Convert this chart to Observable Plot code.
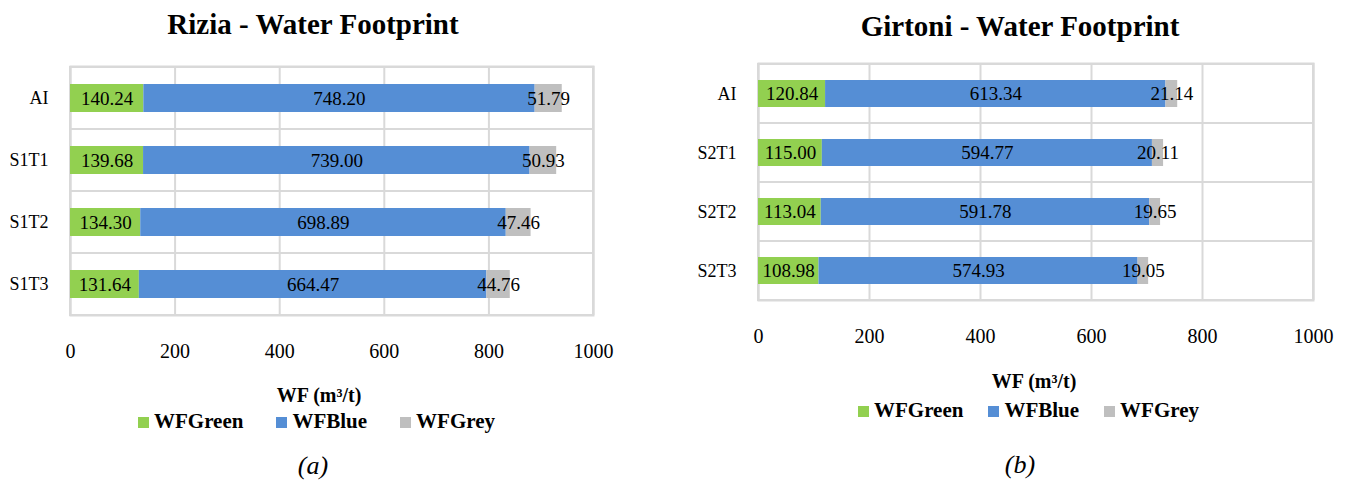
<!DOCTYPE html>
<html>
<head>
<meta charset="utf-8">
<script src="https://cdn.jsdelivr.net/npm/d3@7"></script>
<script src="https://cdn.jsdelivr.net/npm/@observablehq/plot@0.6"></script>
<style>
  html, body { margin: 0; padding: 0; background: #fff; }
  #root { position: relative; width: 1348px; height: 482px; overflow: hidden; font-family: "Liberation Serif", "Times New Roman", serif; color: #000; }
  .abs { position: absolute; }
  .title { font-weight: bold; font-size: 29px; line-height: 29px; text-align: center; width: 674px; }
  .axtitle { font-weight: bold; font-size: 20px; line-height: 20px; text-align: center; white-space: nowrap; }
  .legend { display: flex; align-items: baseline; font-weight: bold; font-size: 21px; line-height: 21px; white-space: nowrap; }
  .legend .item { display: flex; align-items: baseline; }
  .legend .sw { display: inline-block; width: 11px; height: 11px; margin-right: 5px; }
  .caption { font-style: italic; font-size: 26px; line-height: 26px; text-align: center; }
</style>
</head>
<body>
<div id="root"></div>
<script>
// ---- data ----
const seriesNames = ["WFGreen", "WFBlue", "WFGrey"];
const seriesColors = ["#92D050", "#558ED5", "#BFBFBF"];
const xTicks = [0, 200, 400, 600, 800, 1000];

const riziaTitle = "Rizia - Water Footprint";
const riziaCats = ["AI", "S1T1", "S1T2", "S1T3"];
const riziaGreen = [140.24, 139.68, 134.30, 131.64];
const riziaBlue = [748.20, 739.00, 698.89, 664.47];
const riziaGrey = [51.79, 50.93, 47.46, 44.76];

const girtoniTitle = "Girtoni - Water Footprint";
const girtoniCats = ["AI", "S2T1", "S2T2", "S2T3"];
const girtoniGreen = [120.84, 115.00, 113.04, 108.98];
const girtoniBlue = [613.34, 594.77, 591.78, 574.93];
const girtoniGrey = [21.14, 20.11, 19.65, 19.05];

const axisTitle = "WF (m³/t)";

function rows(cats, green, blue, grey) {
  const out = [];
  const vals = [green, blue, grey];
  cats.forEach((c, i) => {
    seriesNames.forEach((s, j) => out.push({cat: c, series: s, value: vals[j][i]}));
  });
  return out;
}

function chart(cats, data, cfg) {
  const grid = "#D9D9D9";
  return Plot.plot({
    width: 674,
    height: cfg.height,
    marginLeft: cfg.ml,
    marginRight: cfg.mr,
    marginTop: cfg.mt,
    marginBottom: cfg.mb,
    style: {fontFamily: "'Liberation Serif', 'Times New Roman', serif", color: "#000", background: "transparent"},
    x: {domain: [0, 1000], axis: null},
    y: {domain: cats, padding: 0, axis: null},
    color: {domain: seriesNames, range: seriesColors},
    marks: [
      Plot.gridX(xTicks, {stroke: grid, strokeOpacity: 1, strokeWidth: 2}),
      Plot.cell(cats, {y: d => d, fill: "none", stroke: grid, strokeWidth: 2}),
      Plot.frame({stroke: grid, strokeWidth: 2}),
      Plot.barX(data, Plot.stackX({y: "cat", x: "value", fill: "series", z: "series", order: seriesNames, insetTop: cfg.inset, insetBottom: cfg.inset})),
      Plot.text(data, Plot.stackX({y: "cat", x: "value", z: "series", order: seriesNames, text: d => d.value.toFixed(2), fontSize: 19, fill: "#000"})),
      Plot.axisY({tickSize: 0, tickPadding: cfg.yPad, fontSize: 18, label: null}),
      Plot.axisX({ticks: xTicks, tickFormat: d => String(d), tickSize: 0, tickPadding: 28, fontSize: 20, label: null})
    ]
  });
}

const root = document.getElementById("root");
function addDiv(cls, text, style) {
  const d = document.createElement("div");
  d.className = "abs " + cls;
  if (text != null) d.textContent = text;
  Object.assign(d.style, style);
  root.appendChild(d);
  return d;
}
function addLegend(style, gap) {
  const d = addDiv("legend", null, style);
  d.style.gap = gap + "px";
  seriesNames.forEach((s, i) => {
    const it = document.createElement("span");
    it.className = "item";
    const sw = document.createElement("span");
    sw.className = "sw";
    sw.style.background = seriesColors[i];
    it.appendChild(sw);
    it.appendChild(document.createTextNode(s));
    d.appendChild(it);
  });
  return d;
}

// left chart
const left = chart(riziaCats, rows(riziaCats, riziaGreen, riziaBlue, riziaGrey),
  {height: 370, ml: 70, mr: 81, mt: 66, mb: 55, inset: 17, yPad: 22});
left.style.position = "absolute"; left.style.left = "0px"; left.style.top = "0px";
root.appendChild(left);

// right chart
const right = chart(girtoniCats, rows(girtoniCats, girtoniGreen, girtoniBlue, girtoniGrey),
  {height: 360, ml: 84, mr: 35, mt: 63, mb: 60, inset: 16, yPad: 22});
right.style.position = "absolute"; right.style.left = "674px"; right.style.top = "0px";
root.appendChild(right);

// texts
addDiv("title", riziaTitle, {left: "-24px", top: "10px"});
addDiv("title", girtoniTitle, {left: "683px", top: "12px"});

addDiv("axtitle", axisTitle, {left: "219px", width: "200px", top: "385px"});
addDiv("axtitle", axisTitle, {left: "934px", width: "200px", top: "371px"});

const lg1 = addLegend({left: "138px", top: "411px"}, 33);
const lg2 = addLegend({left: "858px", top: "400px"}, 25);

addDiv("caption", "(a)", {left: "263px", width: "100px", top: "453px"});
addDiv("caption", "(b)", {left: "970px", width: "100px", top: "452px"});
</script>
</body>
</html>
